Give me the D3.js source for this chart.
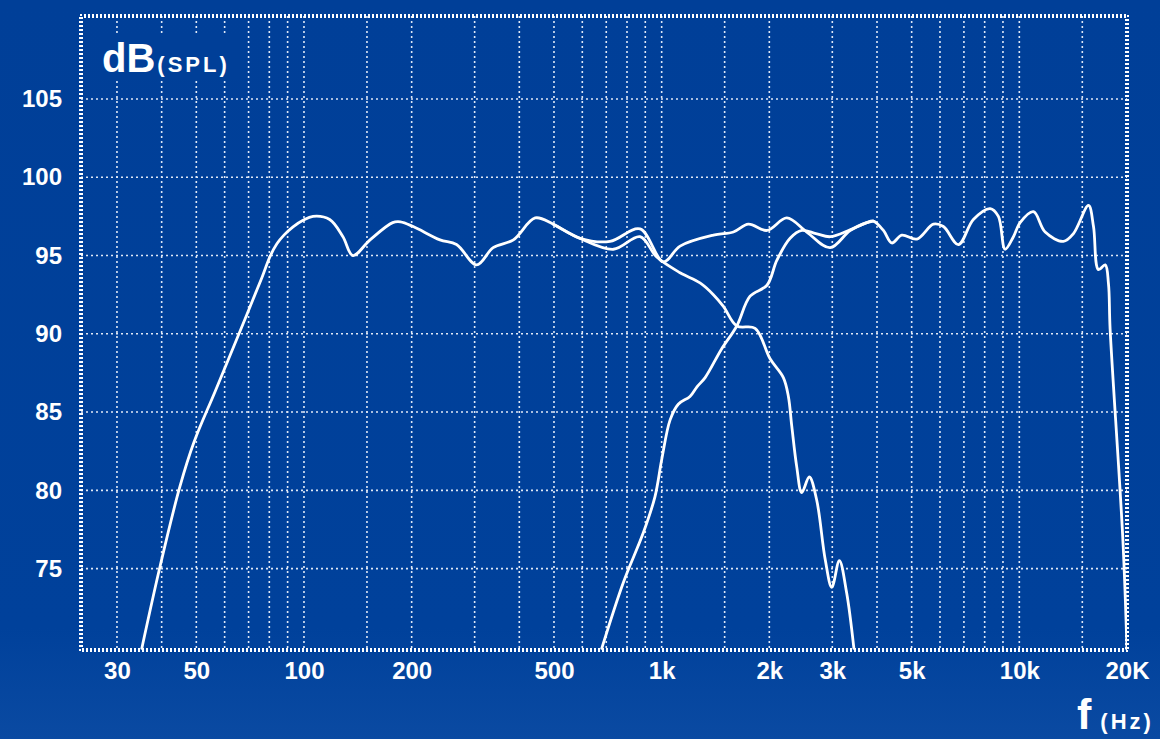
<!DOCTYPE html>
<html>
<head>
<meta charset="utf-8">
<script src="https://cdn.jsdelivr.net/npm/d3@7"></script>
<style>
  html, body { margin: 0; padding: 0; background: #00409a; }
  svg { display: block; }
  text { font-family: "Liberation Sans", Arial, Helvetica, sans-serif; font-weight: bold; fill: #ffffff; }
</style>
</head>
<body>
<svg id="chart" width="1160" height="739"></svg>
<script>
// ---------------- data ----------------
const combinedFreq = [35.2, 39.6, 45.0, 49.3, 56.4, 66.2, 76.3, 80.4, 84, 87.9, 93.2, 99.4, 106, 118, 128.5, 137, 153, 177, 186, 202, 240, 267, 304, 338, 385, 443, 498, 591, 717, 870, 1011, 1126, 1395, 1587, 1748, 1970, 2238, 2545, 2958, 3364, 3746, 3908, 4169, 4400, 4693, 5169, 5752, 6134, 6755, 7439, 8285, 8739, 9126, 9627, 10050, 10950, 11810, 13280, 14170, 15610, 16120, 16640, 17380, 17750, 17940, 19470, 20000];
const combinedSpl  = [69.9, 75.15, 80.25, 83.1, 86.3, 90.15, 93.6, 94.95, 95.75, 96.3, 96.83, 97.25, 97.5, 97.3, 96.2, 95.0, 96.0, 97.1, 97.15, 96.85, 96.0, 95.7, 94.4, 95.5, 96.0, 97.4, 97.0, 96.1, 95.9, 96.7, 94.6, 95.6, 96.3, 96.5, 97.0, 96.6, 97.4, 96.5, 95.5, 96.6, 97.1, 97.2, 96.6, 95.8, 96.3, 96.05, 97.0, 96.85, 95.7, 97.3, 98.0, 97.5, 95.4, 96.2, 97.1, 97.8, 96.5, 95.9, 96.4, 98.2, 96.85, 94.1, 94.4, 93.2, 90.3, 76.9, 69.8];

const wooferFreq = [498, 591, 733, 870, 969, 1126, 1280, 1395, 1488, 1622, 1825, 2010, 2189, 2261, 2311, 2386, 2464, 2587, 2712, 2865, 2990, 3139, 3290, 3447];
const wooferSpl  = [97.0, 96.1, 95.4, 96.2, 94.9, 93.9, 93.25, 92.5, 91.75, 90.5, 90.35, 88.4, 87.2, 86.0, 84.1, 81.5, 79.85, 80.85, 79.4, 75.6, 73.8, 75.5, 73.45, 69.9];

const tweeterFreq = [680, 781, 889, 958, 1001, 1056, 1113, 1200, 1254, 1323, 1468, 1622, 1767, 1970, 2100, 2286, 2465, 2700, 2958, 3364, 3746, 3908];
const tweeterSpl  = [69.9, 74.1, 77.3, 79.6, 82.0, 84.5, 85.5, 86.0, 86.6, 87.2, 89.0, 90.5, 92.4, 93.1, 94.7, 96.1, 96.6, 96.4, 96.2, 96.64, 97.1, 97.2];

const gridFreqs = [30, 40, 50, 60, 70, 80, 90, 100, 150, 200, 300, 400, 500, 600, 700, 800, 900, 1000, 1500, 2000, 3000, 4000, 5000, 6000, 7000, 8000, 9000, 10000, 15000];
const xTickValues = [30, 50, 100, 200, 500, 1000, 2000, 3000, 5000, 10000, 20000];
const xTickLabels = ["30", "50", "100", "200", "500", "1k", "2k", "3k", "5k", "10k", "20K"];
const yTickValues = [75, 80, 85, 90, 95, 100, 105];

// ---------------- layout ----------------
const W = 1160, H = 739;
const margin = { left: 81, right: 33, top: 16, bottom: 89 };
const x = d3.scaleLog().domain([23.8, 20000]).range([margin.left, W - margin.right]);
const y = d3.scaleLinear().domain([69.8, 110.3]).range([H - margin.bottom, margin.top]);

const svg = d3.select("#chart");
const defs = svg.append("defs");
const bg = defs.append("linearGradient").attr("id", "bg").attr("x1", 0).attr("y1", 0).attr("x2", 0).attr("y2", 1);
bg.append("stop").attr("offset", "0").attr("stop-color", "#003f98");
bg.append("stop").attr("offset", "0.85").attr("stop-color", "#00419b");
bg.append("stop").attr("offset", "1").attr("stop-color", "#0a4aa2");
defs.append("clipPath").attr("id", "plotClip").append("rect")
  .attr("x", x.range()[0]).attr("y", y.range()[1])
  .attr("width", x.range()[1] - x.range()[0]).attr("height", y.range()[0] - y.range()[1]);

svg.append("rect").attr("width", W).attr("height", H).attr("fill", "url(#bg)");

const x0 = x.range()[0], x1 = x.range()[1], y0 = y.range()[0], y1 = y.range()[1];
const gridColor = "#dfe8f6";

// grid
const grid = svg.append("g");
grid.selectAll("line.v").data(gridFreqs).join("line")
  .attr("x1", d => x(d)).attr("x2", d => x(d))
  .attr("y1", y1).attr("y2", y0)
  .attr("stroke", gridColor).attr("stroke-width", 1.6).attr("stroke-dasharray", "2,3");
grid.selectAll("line.h").data(yTickValues).join("line")
  .attr("x1", x0).attr("x2", x1)
  .attr("y1", d => y(d)).attr("y2", d => y(d))
  .attr("stroke", gridColor).attr("stroke-width", 1.6).attr("stroke-dasharray", "2,3");

// dB label background (hides grid behind the label)
svg.append("rect").attr("x", 100).attr("y", 33).attr("width", 140).attr("height", 47).attr("fill", "#003f98");
const lab = svg.append("text").attr("x", 102).attr("y", 72);
lab.append("tspan").attr("font-size", 40).text("dB");
lab.append("tspan").attr("font-size", 22).attr("letter-spacing", 3).attr("dx", 2).text("(SPL)");

// frame: checkered dotted border
[[-1, 0], [1, 2]].forEach(([off, dashOff]) => {
  svg.append("rect")
    .attr("x", x0 + off).attr("y", y1 + off)
    .attr("width", x1 - x0 - 2 * off).attr("height", y0 - y1 - 2 * off)
    .attr("fill", "none").attr("stroke", "#ffffff").attr("stroke-width", 2)
    .attr("stroke-dasharray", "2,2").attr("stroke-dashoffset", dashOff);
});

// curves
const line = d3.line().x(d => x(d[0])).y(d => y(d[1])).curve(d3.curveCatmullRom.alpha(0.5));
const series = [
  d3.zip(combinedFreq, combinedSpl),
  d3.zip(wooferFreq, wooferSpl),
  d3.zip(tweeterFreq, tweeterSpl)
];
svg.append("g").attr("clip-path", "url(#plotClip)")
  .selectAll("path").data(series).join("path")
  .attr("d", line)
  .attr("fill", "none").attr("stroke", "#ffffff").attr("stroke-width", 2.8)
  .attr("stroke-linejoin", "round").attr("stroke-linecap", "round");

// axes
const yAxis = svg.append("g").attr("transform", `translate(${x0},0)`)
  .call(d3.axisLeft(y).tickValues(yTickValues).tickSize(0).tickPadding(19).tickFormat(d3.format("d")));
yAxis.select(".domain").remove();
yAxis.selectAll("text").attr("font-size", 24).attr("fill", "#ffffff")
  .attr("font-family", "'Liberation Sans', Arial, sans-serif").attr("font-weight", "bold");

const xAxis = svg.append("g").attr("transform", `translate(0,${y0})`)
  .call(d3.axisBottom(x).tickValues(xTickValues).tickSize(0).tickPadding(12)
    .tickFormat((d, i) => xTickLabels[i]));
xAxis.select(".domain").remove();
xAxis.selectAll("text").attr("font-size", 24).attr("fill", "#ffffff")
  .attr("font-family", "'Liberation Sans', Arial, sans-serif").attr("font-weight", "bold");

// f(Hz) label
const fl = svg.append("text").attr("x", 1077).attr("y", 729);
fl.append("tspan").attr("font-size", 43).text("f");
fl.append("tspan").attr("font-size", 22).attr("letter-spacing", 3).attr("dx", 9).text("(Hz)");
</script>
</body>
</html>
